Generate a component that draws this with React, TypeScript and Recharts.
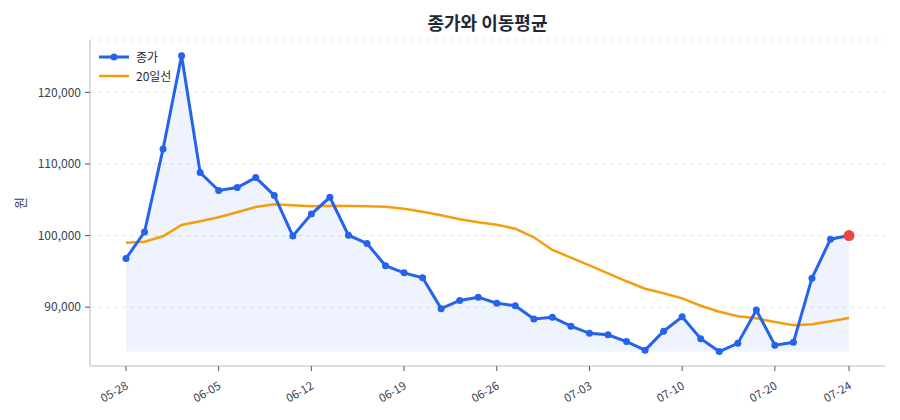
import React from 'react';
import {
  ComposedChart,
  Area,
  Line,
  XAxis,
  YAxis,
  CartesianGrid
} from 'recharts';

// trading days (MM-DD)
const dates = [
  '05-28', '05-29', '05-30', '06-02', '06-04', '06-05', '06-06', '06-09', '06-10', '06-11',
  '06-12', '06-13', '06-16', '06-17', '06-18', '06-19', '06-20', '06-23', '06-24', '06-25',
  '06-26', '06-27', '06-30', '07-01', '07-02', '07-03', '07-04', '07-07', '07-08', '07-09',
  '07-10', '07-11', '07-14', '07-15', '07-16', '07-20', '07-21', '07-22', '07-23', '07-24'
];

// closing price (원)
const closes = [
  96800, 100500, 112100, 125100, 108800, 106300, 106700, 108100, 105600, 99950,
  103000, 105350, 100050, 98900, 95800, 94800, 94100, 89800, 90950, 91400,
  90550, 90200, 88350, 88600, 87350, 86350, 86150, 85200, 84000, 86650,
  88650, 85600, 83800, 84950, 89600, 84700, 85100, 94050, 99500, 100000
];

// 20-day moving average
const ma20 = [
  99000, 99150, 99900, 101480, 102000, 102550, 103250, 104000, 104370, 104230,
  104100, 104170, 104130, 104090, 104040, 103760, 103340, 102830, 102280, 101860,
  101520, 100960, 99760, 97990, 96910, 95850, 94730, 93620, 92580, 91950,
  91240, 90210, 89370, 88730, 88450, 87930, 87470, 87610, 88030, 88490
];

const xTicks = [0, 5, 10, 15, 20, 25, 30, 35, 39];
const yTicks = [90000, 100000, 110000, 120000];

const FONT = '"Noto Sans CJK KR", "Noto Sans", sans-serif';
const BLUE = '#2563eb';
const ORANGE = '#f59e0b';
const RED = '#ef4444';

const data = closes.map((c, i) => ({ i, close: c, ma: ma20[i] }));
const minClose = Math.min(...closes);
const lastIdx = closes.length - 1;

// rotated date labels under the x axis
const DateTick = ({ x, y, payload }: any) => {
  const tx = x - 2;
  const ty = y + 6;
  return (
    <text
      x={tx}
      y={ty}
      transform={`rotate(-30, ${tx}, ${ty})`}
      textAnchor="end"
      dominantBaseline="hanging"
      fontSize={11.5}
      fontFamily={FONT}
      fill="#374151"
    >
      {dates[payload.value]}
    </text>
  );
};

// blue markers, last close highlighted in red
const CloseDot = ({ cx, cy, index }: any) => {
  if (index === lastIdx) {
    return <circle key={`d${index}`} cx={cx} cy={cy} r={5.5} fill={RED} />;
  }
  return <circle key={`d${index}`} cx={cx} cy={cy} r={3.5} fill={BLUE} />;
};

export default function App() {
  return (
    <div style={{ position: 'absolute', left: 0, top: 0, width: 900, height: 420, background: '#fff', fontFamily: FONT }}>
      <div
        style={{
          position: 'absolute',
          left: 90,
          top: 8,
          width: 795,
          textAlign: 'center',
          fontSize: 18,
          fontWeight: 700,
          color: '#1f2937',
          lineHeight: '28px'
        }}
      >
        종가와 이동평균
      </div>

      <ComposedChart
        width={900}
        height={420}
        data={data}
        margin={{ top: 40, right: 15, left: 12, bottom: 0 }}
      >
        <CartesianGrid vertical={false} strokeDasharray="4 4" stroke="#e5e7eb" />
        <XAxis
          dataKey="i"
          type="number"
          domain={[-1.94, 40.94]}
          ticks={xTicks}
          allowDecimals
          height={54}
          tick={<DateTick />}
          tickSize={5}
          tickLine={{ stroke: '#4b5563' }}
          axisLine={{ stroke: '#d9dce1', strokeWidth: 2 }}
        />
        <YAxis
          type="number"
          domain={[81790, 127310]}
          ticks={yTicks}
          allowDataOverflow
          width={78}
          tickSize={5}
          tickMargin={4}
          tickFormatter={(v: number) => v.toLocaleString('en-US')}
          tick={{ fontSize: 12, fill: '#374151', fontFamily: FONT }}
          tickLine={{ stroke: '#4b5563' }}
          axisLine={{ stroke: '#d9dce1', strokeWidth: 2 }}
          label={{ value: '원', angle: -90, position: 'insideLeft', offset: 8, style: { fontSize: 13, fill: '#374151', fontFamily: FONT, textAnchor: 'middle' } }}
        />
        <Area
          dataKey="close"
          type="linear"
          baseValue={minClose}
          fill={BLUE}
          fillOpacity={0.08}
          stroke={BLUE}
          strokeOpacity={0.08}
          strokeWidth={1}
          isAnimationActive={false}
        />
        <Line
          dataKey="ma"
          type="linear"
          stroke={ORANGE}
          strokeWidth={2.5}
          dot={false}
          isAnimationActive={false}
        />
        <Line
          dataKey="close"
          type="linear"
          stroke={BLUE}
          strokeWidth={3}
          dot={<CloseDot />}
          activeDot={false}
          isAnimationActive={false}
        />
      </ComposedChart>

      <div style={{ position: 'absolute', left: 98, top: 47, fontSize: 12, color: '#1f2937' }}>
        <div style={{ display: 'flex', alignItems: 'center', height: 19 }}>
          <svg width={32} height={10}>
            <line x1={1} y1={5} x2={31} y2={5} stroke={BLUE} strokeWidth={3} />
            <circle cx={16} cy={5} r={3.5} fill={BLUE} />
          </svg>
          <span style={{ marginLeft: 6 }}>종가</span>
        </div>
        <div style={{ display: 'flex', alignItems: 'center', height: 19 }}>
          <svg width={32} height={10}>
            <line x1={1} y1={5} x2={31} y2={5} stroke={ORANGE} strokeWidth={2.5} />
          </svg>
          <span style={{ marginLeft: 6 }}>20일선</span>
        </div>
      </div>
    </div>
  );
}
